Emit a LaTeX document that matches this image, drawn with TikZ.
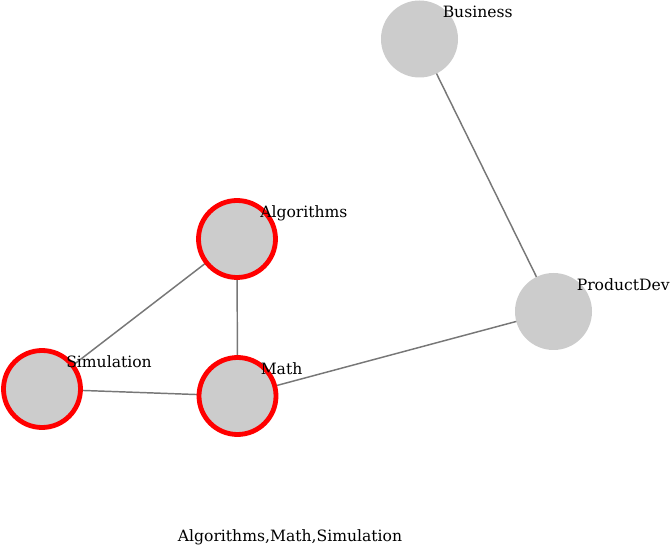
\documentclass[tikz,border=0pt]{standalone}
\usepackage{fontspec}
\setmainfont{DejaVu Serif}
\begin{document}
\begin{tikzpicture}[x=0.75pt,y=-0.75pt,
  vert/.style={circle,fill=nodegray,minimum size=57.75pt,inner sep=0pt},
  sel/.style={vert,draw=red,line width=3.6pt,minimum size=57.75pt},
  lbl/.style={anchor=base west,font=\fontsize{11.7}{13}\selectfont,inner sep=0pt},
  edge/.style={draw=edgegray,line width=1.1pt}]
\definecolor{nodegray}{HTML}{CCCCCC}
\definecolor{edgegray}{HTML}{777777}
\useasboundingbox (0,0) rectangle (672,545);
\coordinate (cB) at (419.5,39);
\coordinate (cA) at (237,239);
\coordinate (cP) at (553.5,311.5);
\coordinate (cS) at (42,389);
\coordinate (cM) at (237.5,396);
\draw[edge] (cB) -- (cP);
\draw[edge] (cA) -- (cM);
\draw[edge] (cA) -- (cS);
\draw[edge] (cS) -- (cM);
\draw[edge] (cM) -- (cP);
\node[vert] (B) at (cB) {};
\node[sel] (A) at (cA) {};
\node[vert] (P) at (cP) {};
\node[sel] (S) at (cS) {};
\node[sel] (M) at (cM) {};
\node[lbl] (lB) at ([shift={(23,-21)}]cB) {Business};
\node[lbl] (lA) at ([shift={(23,-21)}]cA) {Algorithms};
\node[lbl] (lP) at ([shift={(23,-21)}]cP) {ProductDev};
\node[lbl] (lS) at ([shift={(24,-21)}]cS) {Simulation};
\node[lbl] (lM) at ([shift={(23,-21)}]cM) {Math};
\node[lbl,anchor=base] (sel) at (290,541.5) {Algorithms,Math,Simulation};
\end{tikzpicture}
\end{document}
